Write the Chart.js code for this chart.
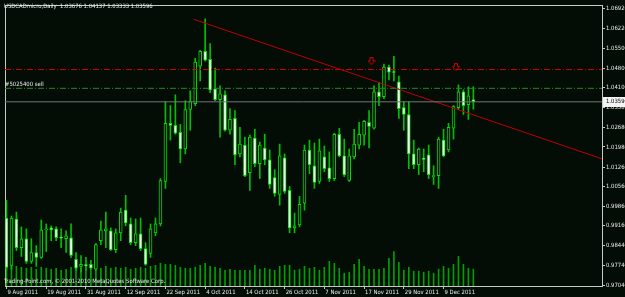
<!DOCTYPE html>
<html><head><meta charset="utf-8">
<script src="https://cdn.jsdelivr.net/npm/chart.js@4/dist/chart.umd.min.js"></script>
<style>html,body{margin:0;padding:0;background:#040c06;overflow:hidden}canvas{display:block}</style>
</head><body>
<canvas id="c" width="625" height="297"></canvas>
<script>
// ---- data (USDCADmicro, Daily) ----
const opens = [0.99438,0.97745,0.99403,0.98379,0.98697,0.97886,0.98203,0.98027,0.99014,0.99085,
0.99050,0.98732,0.98697,0.98732,0.97956,0.97709,0.97745,0.97780,0.97603,0.98626,
0.98979,0.98979,0.98308,0.98908,0.99720,0.99226,0.98555,0.98873,0.98344,0.98168,
0.98908,0.99226,1.00744,1.02826,1.02755,1.02508,1.01908,1.03320,1.03532,1.04873,
1.05402,1.05120,1.04061,1.03673,1.03849,1.02579,1.03002,1.01732,1.02049,1.01062,
1.02296,1.01379,1.01943,1.01521,1.00885,1.00285,1.01591,1.00426,0.99085,0.99191,
0.99967,1.01873,1.01309,1.00744,1.01626,1.01238,1.00850,1.02437,1.01662,1.00779,
1.01626,1.02049,1.02402,1.02861,1.02649,1.03955,1.03779,1.04838,1.04661,1.04308,
1.03390,1.03143,1.01732,1.01344,1.01556,1.01697,1.00921,1.00956,1.02226,1.01873,
1.02649,1.03390,1.03955,1.03496,1.03676];
const highs = [1.00073,0.99509,0.99650,0.99120,0.99050,0.98697,0.98450,0.99367,0.99226,0.99156,
0.99120,0.99050,0.98979,0.99226,0.98203,0.98098,0.98027,0.97921,0.98520,0.99332,
0.99650,0.99085,0.99050,0.99791,1.00250,0.99438,0.99403,0.99438,0.98555,0.99226,
0.99438,1.00850,1.03602,1.03461,1.03849,1.02790,1.03638,1.03991,1.05155,1.05437,
1.06566,1.05684,1.04802,1.04167,1.03991,1.03355,1.03285,1.02685,1.02331,1.02402,
1.02614,1.02155,1.02437,1.01873,1.01168,1.02084,1.01732,1.00567,0.99614,1.00215,
1.02049,1.02226,1.02120,1.02261,1.02014,1.01803,1.02473,1.02649,1.02261,1.01908,
1.02614,1.02861,1.02932,1.03285,1.04167,1.04273,1.04944,1.04908,1.05226,1.04520,
1.03602,1.03602,1.02226,1.01943,1.01908,1.02049,1.01309,1.02331,1.02614,1.02826,
1.03461,1.04202,1.04026,1.04132,1.04137];
const lows = [0.97568,0.97603,0.98274,0.98062,0.97815,0.97815,0.97709,0.97992,0.98239,0.98626,
0.98626,0.98379,0.98203,0.98027,0.97568,0.97497,0.97568,0.97603,0.97568,0.98485,
0.98379,0.98274,0.98203,0.98626,0.99156,0.98485,0.98450,0.98274,0.97745,0.98027,
0.98803,0.99156,1.00497,1.02226,1.02437,1.01415,1.01732,1.02579,1.03461,1.04344,
1.05050,1.03920,1.03638,1.02331,1.02543,1.02437,1.01344,1.01626,1.00921,1.00426,
1.01274,1.00850,1.01344,1.00497,1.00215,0.99897,1.00320,0.98908,0.98908,0.99120,
0.99720,1.01026,1.00497,1.00673,1.01097,1.00744,1.00779,1.01626,1.00921,1.00744,
1.01556,1.01908,1.02049,1.01943,1.02614,1.03461,1.03708,1.04379,1.04344,1.03002,
1.02579,1.01203,1.01203,1.00991,1.01097,1.00850,1.00638,1.00497,1.01626,1.01803,
1.02261,1.03320,1.03143,1.02967,1.03333];
const closes = [0.97674,0.99438,0.98379,0.98697,0.97886,0.98203,0.98027,0.99014,0.99050,0.99014,
0.98732,0.98715,0.98803,0.98098,0.97639,0.97780,0.97735,0.97639,0.98485,0.99014,
0.99050,0.98308,0.98908,0.99650,0.99261,0.98555,0.98873,0.98344,0.97780,0.99050,
0.99226,1.00779,1.02826,1.02755,1.02473,1.01908,1.03320,1.03602,1.05014,1.05402,
1.05085,1.04026,1.03673,1.03885,1.02579,1.02967,1.01697,1.02084,1.00956,1.02331,
1.01379,1.02049,1.01521,1.00638,1.00320,1.01662,1.00391,0.99085,0.99156,0.99932,
1.01873,1.01344,1.00709,1.01838,1.01203,1.00850,1.02437,1.01662,1.00991,1.01662,
1.02084,1.02437,1.02896,1.02720,1.03955,1.03779,1.04838,1.04661,1.04644,1.03355,
1.03143,1.01732,1.01344,1.01908,1.01538,1.00991,1.00956,1.02261,1.01662,1.02685,
1.03426,1.03955,1.03461,1.03814,1.03596];
const volumes = [5500,5250,5000,4750,4500,4750,4250,4750,4500,4250,
4500,4000,4250,4750,5000,4500,4250,4250,4750,4500,
5000,4500,4750,4500,4750,4250,4500,4750,4500,5000,
5250,5750,5500,5500,5250,4750,4500,4500,4750,5250,
5750,5000,4750,4500,4000,4250,4000,4000,4000,4000,
5250,4250,4500,4250,4000,5000,5250,5250,4000,4250,
5000,4500,4750,4000,4750,6250,5750,4500,3250,3500,
5500,6750,5000,4250,4250,4250,4500,7000,8750,6000,
4000,4750,3750,3750,3500,3750,3250,4250,5000,4500,
5500,7500,5500,4500,4250];
const dateTickIdx = [0,8,16,24,32,40,48,56,64,72,80,88];
const dateLabels = ["9 Aug 2011","19 Aug 2011","31 Aug 2011","12 Sep 2011","22 Sep 2011","4 Oct 2011",
"14 Oct 2011","26 Oct 2011","7 Nov 2011","17 Nov 2011","29 Nov 2011","9 Dec 2011"];
const priceTicks = [1.06920,1.06220,1.05500,1.04800,1.04100,1.03380,1.02680,1.01980,1.01260,1.00560,
0.99860,0.99160,0.98440,0.97740,0.97040];
const resistanceLevel = 1.04750;   // red dash-dot
const orderLevel = 1.04080;        // "#5025400 sell"
const bidPrice = 1.03596;          // current price
const trendStart = {x: 37.7, y: 1.06549};
const trendEnd = {x: 119.9, y: 1.01556};
const arrowMarks = [{x: 73.5, y: 1.05032}, {x: 90.5, y: 1.04830}];
const headerText = "USDCADmicro,Daily  1.03676 1.04137 1.03333 1.03596";
const orderText = "#5025400 sell";
const footerText = "Trading-Point.com, \u00A9 2001-2010 MetaQuotes Software Corp.";

// ---- fonts ----
function hasFont(name){
  const g=document.createElement('canvas').getContext('2d');
  const s='9 Aug 2011 USDCADmicro';
  g.font='40px monospace'; const a=g.measureText(s).width;
  g.font='40px "'+name+'", monospace'; const b=g.measureText(s).width;
  return Math.abs(a-b)>0.5;
}
let FF='Liberation Sans', FS=5.8;
if (hasFont('Liberation Sans Narrow')) { FF='Liberation Sans Narrow'; FS=7; }
else if (hasFont('DejaVu Sans Condensed')) { FF='DejaVu Sans Condensed'; FS=5.9; }

const BG='#040c06', AX='#c8c8c8', TXT='#ececec';
const idx = opens.map((_,i)=>i);

function makeArrow(){
  const c=document.createElement('canvas'); c.width=8; c.height=9;
  const g=c.getContext('2d'); g.strokeStyle='#d00000'; g.lineWidth=1;
  g.beginPath(); g.moveTo(2.5,0.5); g.lineTo(5.5,0.5); g.lineTo(5.5,3.5); g.lineTo(7.5,3.5);
  g.lineTo(4,7.5); g.lineTo(0.5,3.5); g.lineTo(2.5,3.5); g.closePath(); g.stroke();
  return c;
}

const textPlugin = {
  id:'mtText',
  afterDraw(chart){
    const ctx=chart.ctx, ys=chart.scales.y;
    ctx.save();
    ctx.font = FS+'px "'+FF+'"';
    ctx.textBaseline='middle'; ctx.textAlign='left';
    ctx.fillStyle=TXT;
    ctx.fillText(headerText, 4, 6.5);
    ctx.fillText(orderText, 5, ys.getPixelForValue(orderLevel)-4);
    ctx.fillText(footerText, 4, 281);
    const py = ys.getPixelForValue(bidPrice);
    ctx.fillStyle='#f4f4f4';
    ctx.fillRect(603, Math.round(py)-5, 22, 10);
    ctx.fillStyle='#000000';
    ctx.fillText(bidPrice.toFixed(5), 606, py);
    ctx.restore();
  }
};

const lineDs = (data, color, dash, order) => ({
  type:'line', data, borderColor:color, borderWidth:1, borderDash:dash, pointRadius:0,
  xAxisID:'x', yAxisID:'y', order, fill:false, tension:0
});

new Chart(document.getElementById('c'), {
  type:'bar',
  data:{ datasets:[
    lineDs([{x:-0.3,y:resistanceLevel},{x:119.9,y:resistanceLevel}], '#d20000', [6,2,1,2], 0),
    lineDs([{x:-0.3,y:orderLevel},{x:119.9,y:orderLevel}], '#2a8a2a', [6,2,1,2], 0),
    lineDs([{x:-0.3,y:bidPrice},{x:119.9,y:bidPrice}], '#74747e', [], 0),
    lineDs([trendStart, trendEnd], '#c00000', [], 0),
    { type:'line', data:arrowMarks, showLine:false, pointStyle:makeArrow(), pointRadius:4,
      xAxisID:'x', yAxisID:'y', order:0 },
    { label:'body', data: idx.map(i=>({x:i, y:[opens[i], closes[i]]})),
      backgroundColor: idx.map(i=> closes[i] < opens[i] ? '#ffffff' : BG),
      borderColor:'#00e000', borderWidth:1, borderSkipped:false, barThickness:3,
      minBarLength:1, grouped:false, xAxisID:'x', yAxisID:'y', order:1 },
    { label:'wick', data: idx.map(i=>({x:i, y:[lows[i], highs[i]]})),
      backgroundColor:'#00c000', borderWidth:0, barThickness:1, grouped:false,
      xAxisID:'x', yAxisID:'y', order:2 },
    { label:'volume', data: idx.map(i=>({x:i, y:volumes[i]})),
      backgroundColor:'#00a000', borderWidth:0, barThickness:1, grouped:false,
      xAxisID:'x', yAxisID:'vol', order:3 }
  ]},
  options:{
    responsive:false, animation:false, devicePixelRatio:1, events:[],
    layout:{padding:0},
    plugins:{legend:{display:false}, tooltip:{enabled:false}, title:{display:false}},
    scales:{
      x:{ type:'linear', position:'bottom', min:-0.3, max:119.9, offset:false,
        afterBuildTicks:s=>{ s.ticks = dateTickIdx.map(v=>({value:v})); },
        afterFit:s=>{ s.height=11; s.paddingLeft=0; s.paddingRight=0; },
        ticks:{ autoSkip:false, maxRotation:0, minRotation:0, align:'start', labelOffset:1, padding:0,
          color:TXT, font:{family:FF, size:FS}, callback:(v,i)=>dateLabels[i] },
        grid:{ offset:false, drawOnChartArea:false, drawTicks:true, tickLength:3, tickColor:AX, color:AX },
        border:{ display:true, color:AX, width:1 } },
      y:{ type:'linear', position:'right', min:0.97005, max:1.07061, beginAtZero:false,
        afterBuildTicks:s=>{ s.ticks = priceTicks.map(v=>({value:v})); },
        afterFit:s=>{ s.width=23; s.paddingTop=0; s.paddingBottom=0; },
        ticks:{ autoSkip:false, padding:1, color:TXT, font:{family:FF, size:FS}, callback:v=>v.toFixed(5) },
        grid:{ drawOnChartArea:false, drawTicks:true, tickLength:3, tickColor:AX, color:AX },
        border:{ display:true, color:AX, width:1 } },
      vol:{ type:'linear', display:false, min:0, max:71250 },
      xTop:{ type:'linear', position:'top', display:true,
        ticks:{display:false}, grid:{drawOnChartArea:false, drawTicks:false},
        border:{display:true, color:AX, width:1},
        afterFit:s=>{ s.height=1; s.paddingLeft=0; s.paddingRight=0; } },
      yLeft:{ type:'linear', position:'left', display:true,
        ticks:{display:false}, grid:{drawOnChartArea:false, drawTicks:false},
        border:{display:true, color:AX, width:1},
        afterFit:s=>{ s.width=1; s.paddingTop=0; s.paddingBottom=0; } }
    }
  },
  plugins:[textPlugin]
});
</script></body></html>
